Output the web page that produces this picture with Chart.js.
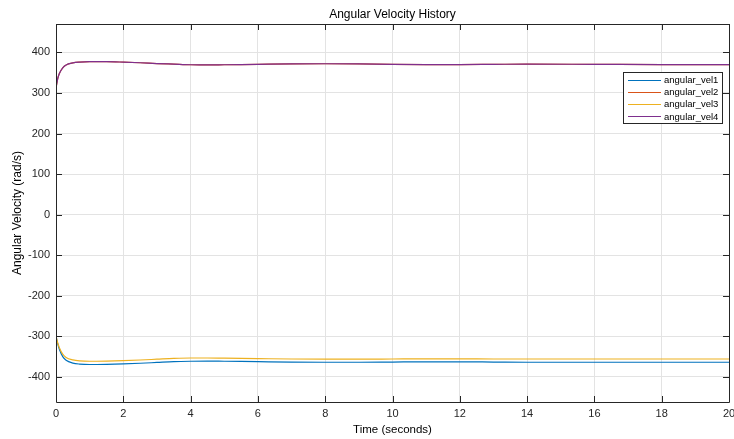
<!DOCTYPE html>
<html>
<head>
<meta charset="utf-8">
<script src="https://cdn.jsdelivr.net/npm/chart.js@4.4.1/dist/chart.umd.min.js"></script>
<style>
  html, body { margin: 0; padding: 0; background: #ffffff; }
  #wrap { width: 734px; height: 439px; position: relative; }
</style>
</head>
<body>
<div id="wrap"><canvas id="c" width="734" height="439"></canvas></div>
<script>
// Simulation time samples (s)
const time = [0, 0.05, 0.1, 0.2, 0.3, 0.5, 0.7, 1, 1.5, 2, 2.5, 3, 3.5, 4, 4.5, 5, 6, 7, 8, 9, 10, 11, 12, 13, 14, 16, 18, 20];

// Rotor angular velocities (rad/s)
const angularVel1 = [-300, -318, -332, -350, -359, -366, -368.5, -369.5, -369, -368, -366.5, -364.5, -362.5, -361.5, -361, -361.5, -362.5, -363.5, -364, -364, -363.5, -363, -363, -363.5, -364, -364, -364, -364];
const angularVel2 = [312, 335, 348, 362, 369, 374, 376, 377, 377, 376, 374.5, 372.5, 371, 369.5, 369, 369.5, 370.5, 371.5, 372, 371.5, 370.5, 370, 370, 370.5, 371, 370.5, 370, 370];
const angularVel3 = [-300, -316, -328, -344, -352, -358, -360.5, -361.5, -361, -360, -358.5, -356.5, -354.5, -353.5, -353.5, -354, -355, -356, -356.5, -356.5, -356, -355.5, -355.5, -356, -356, -356, -356, -356];
const angularVel4 = [312, 335, 348, 362, 369, 374, 376, 377, 377, 376, 374.5, 372.5, 371, 369.5, 369, 369.5, 370.5, 371.5, 372, 371.5, 370.5, 370, 370, 370.5, 371, 370.5, 370, 370];

const seriesNames = ['angular_vel1', 'angular_vel2', 'angular_vel3', 'angular_vel4'];
const seriesColors = ['#0072BD', '#D95319', '#EDB120', '#7E2F8E'];

const xTicks = [0, 2, 4, 6, 8, 10, 12, 14, 16, 18, 20];
const yTicks = [-400, -300, -200, -100, 0, 100, 200, 300, 400];

const FONT = '"Liberation Sans", Arial, Helvetica, sans-serif';
const AXIS_COLOR = '#262626';

function pts(vals) { return time.map((t, i) => ({ x: t, y: vals[i] })); }

const seriesValues = [angularVel1, angularVel2, angularVel3, angularVel4];
// later series are painted over earlier ones (lower order = drawn on top)
const datasets = seriesValues.map((vals, i) => ({
  label: seriesNames[i],
  data: pts(vals),
  order: seriesValues.length - i,
  borderColor: seriesColors[i],
  backgroundColor: seriesColors[i],
  borderWidth: 1.2,
  pointRadius: 0,
  fill: false,
  cubicInterpolationMode: 'monotone'
}));

// Box around the axes, inward tick marks, title and inset legend
const decorations = {
  id: 'decorations',
  afterDatasetsDraw(chart) {
    const { ctx, chartArea: a, scales } = chart;
    ctx.save();
    ctx.strokeStyle = AXIS_COLOR;
    ctx.lineWidth = 1;
    ctx.beginPath();
    ctx.rect(Math.round(a.left) + 0.5, Math.round(a.top) + 0.5,
             Math.round(a.right - a.left), Math.round(a.bottom - a.top));
    ctx.stroke();

    const tl = 6;
    ctx.beginPath();
    xTicks.forEach(v => {
      const px = Math.round(scales.x.getPixelForValue(v)) + 0.5;
      ctx.moveTo(px, a.bottom); ctx.lineTo(px, a.bottom - tl);
      ctx.moveTo(px, a.top); ctx.lineTo(px, a.top + tl);
    });
    yTicks.forEach(v => {
      const py = Math.round(scales.y.getPixelForValue(v)) + 0.5;
      ctx.moveTo(a.left, py); ctx.lineTo(a.left + tl, py);
      ctx.moveTo(a.right, py); ctx.lineTo(a.right - tl, py);
    });
    ctx.stroke();

    // Title over the plot area
    ctx.fillStyle = '#000000';
    ctx.font = '12px ' + FONT;
    ctx.textAlign = 'center';
    ctx.textBaseline = 'middle';
    ctx.fillText('Angular Velocity History', (a.left + a.right) / 2, 15);

    // Legend box in the upper right
    const lx = 623, ly = 72, lw = 99, lh = 51;
    ctx.fillStyle = '#ffffff';
    ctx.fillRect(lx, ly, lw, lh);
    ctx.strokeStyle = AXIS_COLOR;
    ctx.strokeRect(lx + 0.5, ly + 0.5, lw, lh);
    ctx.font = '9.5px ' + FONT;
    ctx.textAlign = 'left';
    chart.data.datasets.forEach((ds, i) => {
      const y = ly + 7.5 + i * 12.3;
      ctx.strokeStyle = ds.borderColor;
      ctx.lineWidth = 1.2;
      ctx.beginPath();
      ctx.moveTo(628, Math.round(y) + 0.5);
      ctx.lineTo(661, Math.round(y) + 0.5);
      ctx.stroke();
      ctx.fillStyle = '#000000';
      ctx.fillText(ds.label, 664, y + 0.5);
    });
    ctx.restore();
  }
};

new Chart(document.getElementById('c'), {
  type: 'line',
  data: { datasets },
  plugins: [decorations],
  options: {
    responsive: false,
    animation: false,
    layout: { padding: { top: 24, right: 5, left: 0, bottom: 0 } },
    plugins: { legend: { display: false }, tooltip: { enabled: false }, title: { display: false } },
    scales: {
      x: {
        type: 'linear',
        min: 0, max: 20,
        afterBuildTicks(scale) { scale.ticks = xTicks.map(v => ({ value: v })); },
        afterFit(scale) { scale.height = 37; scale.paddingRight = 0; scale.paddingLeft = 0; },
        grid: { color: '#e3e3e3', drawTicks: false },
        border: { display: false },
        ticks: { color: AXIS_COLOR, font: { family: FONT, size: 11 }, padding: 5, maxRotation: 0 },
        title: { display: true, text: 'Time (seconds)', color: '#000000', font: { family: FONT, size: 11.5 }, padding: { top: 0, bottom: 2 } }
      },
      y: {
        type: 'linear',
        min: -462, max: 470,
        afterBuildTicks(scale) { scale.ticks = yTicks.map(v => ({ value: v })); },
        afterFit(scale) { scale.width = 56; },
        grid: { color: '#e3e3e3', drawTicks: false },
        border: { display: false },
        ticks: { color: AXIS_COLOR, font: { family: FONT, size: 11 }, padding: 6 },
        title: { display: true, text: 'Angular Velocity (rad/s)', color: '#000000', font: { family: FONT, size: 12 }, padding: { top: 10, bottom: 0 } }
      }
    }
  }
});
</script>
</body>
</html>
